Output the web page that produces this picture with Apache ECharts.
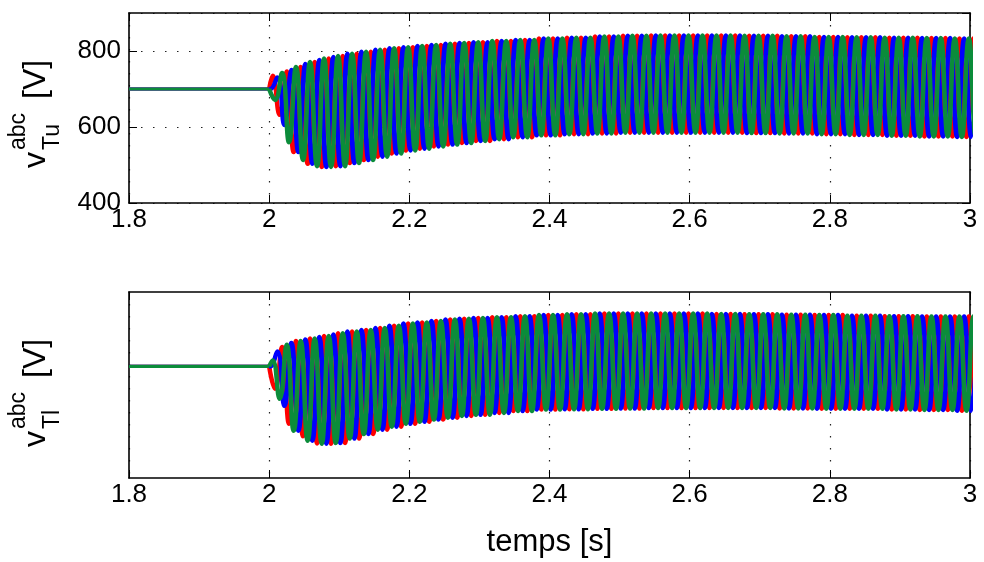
<!DOCTYPE html>
<html>
<head>
<meta charset="utf-8">
<script src="https://cdn.jsdelivr.net/npm/echarts@6/dist/echarts.min.js"></script>
<style>
  html, body { margin: 0; padding: 0; background: #ffffff; }
  #chart { width: 984px; height: 562px; }
</style>
</head>
<body>
<div id="chart"></div>
<script>
// ---- Data -------------------------------------------------------------
// Steady state before the step, and time window of both plots
const tWindow = [1.8, 3.0];
const tStep = 2.0;
const vSteady = 700;          // V, all three phases before t = 2 s
const fGrid = 50;             // Hz, oscillation frequency of the arm voltages

// Envelope sample times (s) after the step
const envTimes = [2.000, 2.005, 2.010, 2.015, 2.020, 2.025, 2.030, 2.040, 2.050, 2.060,
                  2.070, 2.080, 2.090, 2.100, 2.120, 2.140, 2.160, 2.180, 2.200, 2.220,
                  2.240, 2.260, 2.280, 2.300, 2.330, 2.360, 2.400, 2.440, 2.480, 2.520,
                  2.560, 2.600, 2.650, 2.700, 2.750, 2.800, 2.850, 2.900, 2.950, 3.000];

// Upper arm: peak / valley values (V)
const vTuMax = [700, 735, 730, 732, 742, 746, 750, 758, 766, 771,
                776, 780, 784, 787, 793, 798, 803, 807, 810, 813,
                816, 819, 821, 823, 826, 829, 833, 835, 838, 840,
                841, 841, 841, 840, 839, 837, 836, 835, 834, 833];
const vTuMin = [700, 684, 671, 632, 605, 579, 560, 534, 513, 503,
                497, 495, 495, 497, 505, 513, 522, 530, 538, 543,
                549, 554, 558, 563, 568, 573, 578, 581, 583, 585,
                585, 585, 585, 584, 583, 581, 579, 577, 575, 574];

// Lower arm: peak / valley values (V)
const vTlMax = [700, 716, 740, 745, 752, 758, 763, 768, 772, 775,
                779, 782, 786, 789, 794, 798, 803, 809, 815, 818,
                822, 826, 828, 830, 832, 835, 838, 840, 842, 842,
                842, 842, 841, 840, 839, 838, 836, 835, 834, 834];
const vTlMin = [700, 659, 640, 613, 594, 570, 546, 527, 512, 500,
                493, 492, 492, 494, 506, 518, 530, 538, 546, 551,
                557, 562, 567, 570, 575, 580, 584, 585, 586, 587,
                588, 588, 588, 588, 587, 586, 586, 584, 583, 581];

// Phase lags (degrees) of phases a, b, c in each arm
const phaseNames = ['a', 'b', 'c'];
const phaseColors = ['#ff0000', '#0000ff', '#0b8c3a'];
const lagsUpper = [0, 120, 240];
const lagsLower = [240, 120, 0];

// Axis ticks
const xTickValues = [1.8, 2.0, 2.2, 2.4, 2.6, 2.8, 3.0];
const xTickLabels = ['1.8', '2', '2.2', '2.4', '2.6', '2.8', '3'];
const yRange = [400, 900];
const yTickValues = [400, 600, 800];
const yTickLabels = ['400', '600', '800'];

// ---- Build traces -----------------------------------------------------
function nearestEnv(t) {
  let best = 0;
  for (let i = 1; i < envTimes.length; i++) {
    if (Math.abs(envTimes[i] - t) < Math.abs(envTimes[best] - t)) best = i;
  }
  return best;
}

// One phase after the step: its successive crests and troughs
function phaseTrace(lagDeg, vMax, vMin) {
  const pts = [[tStep, vSteady]];
  for (let m = -3; m < 400; m++) {
    const t = tStep + ((90 + lagDeg + 180 * m) / 360) / fGrid;
    if (t <= tStep) continue;
    if (t > tWindow[1] + 0.02) break;
    const i = nearestEnv(t);
    pts.push([t, (m % 2 === 0) ? vMax[i] : vMin[i]]);
  }
  return pts;
}

function armSeries(gi, lags, vMax, vMin) {
  const common = { type: 'line', xAxisIndex: gi * 2, yAxisIndex: gi * 2,
                   showSymbol: false, animation: false };
  // flat part before the step (three phases on top of each other)
  const steady = phaseNames.map((p, k) => Object.assign({}, common, {
    name: p,
    data: [[tWindow[0], vSteady], [tStep, vSteady]],
    lineStyle: { color: phaseColors[k], width: 3.2 },
    itemStyle: { color: phaseColors[k] },
    z: 2 + k
  }));
  const osc = phaseNames.map((p, k) => Object.assign({}, common, {
    name: p,
    data: phaseTrace(lags[k], vMax, vMin),
    smooth: 0.5,
    lineStyle: { color: phaseColors[k], width: 4.5 },
    itemStyle: { color: phaseColors[k] },
    z: 2 + k
  }));
  return steady.concat(osc);
}

// ---- Axes -------------------------------------------------------------
const FONT = '"Liberation Sans", Arial, Helvetica, sans-serif';
const dotted = { type: [1.5, 10.5], color: '#222', width: 1.2 };

function fmtX(v) {
  const i = xTickValues.findIndex(x => Math.abs(x - v) < 1e-6);
  return i >= 0 ? xTickLabels[i] : '';
}
function fmtY(v) {
  const i = yTickValues.findIndex(y => Math.abs(y - v) < 1e-6);
  return i >= 0 ? yTickLabels[i] : '';
}

function xAxis(gi, pos, withLabels, name) {
  return {
    type: 'value', gridIndex: gi, position: pos,
    min: tWindow[0], max: tWindow[1], interval: 0.2,
    name: name || '', nameLocation: 'middle', nameGap: 49,
    nameTextStyle: { color: '#000', fontSize: 31, fontFamily: FONT },
    axisLine: { show: true, onZero: false, lineStyle: { color: '#000', width: 1.6 } },
    axisTick: { show: true, inside: true, length: 8, lineStyle: { color: '#000', width: 1 } },
    axisLabel: { show: withLabels, color: '#000', fontSize: 26, fontFamily: FONT, margin: 4, formatter: fmtX },
    splitLine: { show: pos === 'bottom', lineStyle: dotted }
  };
}

function yAxis(gi, pos, withTicks, withLabels, withGrid) {
  return {
    type: 'value', gridIndex: gi, position: pos,
    min: yRange[0], max: yRange[1], interval: 200,
    axisLine: { show: true, onZero: false, lineStyle: { color: '#000', width: 1.6 } },
    axisTick: { show: withTicks, inside: true, length: 8, lineStyle: { color: '#000', width: 1 } },
    axisLabel: { show: withLabels, color: '#000', fontSize: 26, fontFamily: FONT, margin: 8,
                 formatter: fmtY, showMaxLabel: false },
    splitLine: { show: withGrid, lineStyle: dotted }
  };
}

// ---- Y axis titles (v with super/subscripts), drawn rotated ------------
function yTitle(bottomY, sub) {
  const rot = Math.PI / 2;
  const main = '32px ' + FONT;
  const small = '23px ' + FONT;
  return [
    { type: 'text', x: 36, y: bottomY, rotation: rot,
      style: { text: 'v', font: main, fill: '#000', align: 'left', verticalAlign: 'middle' } },
    { type: 'text', x: 19, y: bottomY - 18, rotation: rot,
      style: { text: 'abc', font: small, fill: '#000', align: 'left', verticalAlign: 'middle' } },
    { type: 'text', x: 53, y: bottomY - 18, rotation: rot,
      style: { text: sub, font: small, fill: '#000', align: 'left', verticalAlign: 'middle' } },
    { type: 'text', x: 36, y: bottomY - 69, rotation: rot,
      style: { text: '[V]', font: main, fill: '#000', align: 'left', verticalAlign: 'middle' } }
  ];
}

const option = {
  backgroundColor: '#ffffff',
  animation: false,
  grid: [
    { left: 129, top: 13, width: 841, height: 190 },
    { left: 129, top: 292, width: 841, height: 186 }
  ],
  xAxis: [
    xAxis(0, 'bottom', true),
    xAxis(0, 'top', false),
    xAxis(1, 'bottom', true, 'temps [s]'),
    xAxis(1, 'top', false)
  ],
  yAxis: [
    yAxis(0, 'left', true, true, true),
    yAxis(0, 'right', true, false, false),
    yAxis(1, 'left', false, false, false),
    yAxis(1, 'right', false, false, false)
  ],
  series: [
    ...armSeries(0, lagsUpper, vTuMax, vTuMin),
    ...armSeries(1, lagsLower, vTlMax, vTlMin)
  ],
  graphic: [
    ...yTitle(168, 'Tu'),
    ...yTitle(447, 'Tl')
  ]
};

const chart = echarts.init(document.getElementById('chart'), null, { renderer: 'canvas' });
chart.setOption(option);
</script>
</body>
</html>
